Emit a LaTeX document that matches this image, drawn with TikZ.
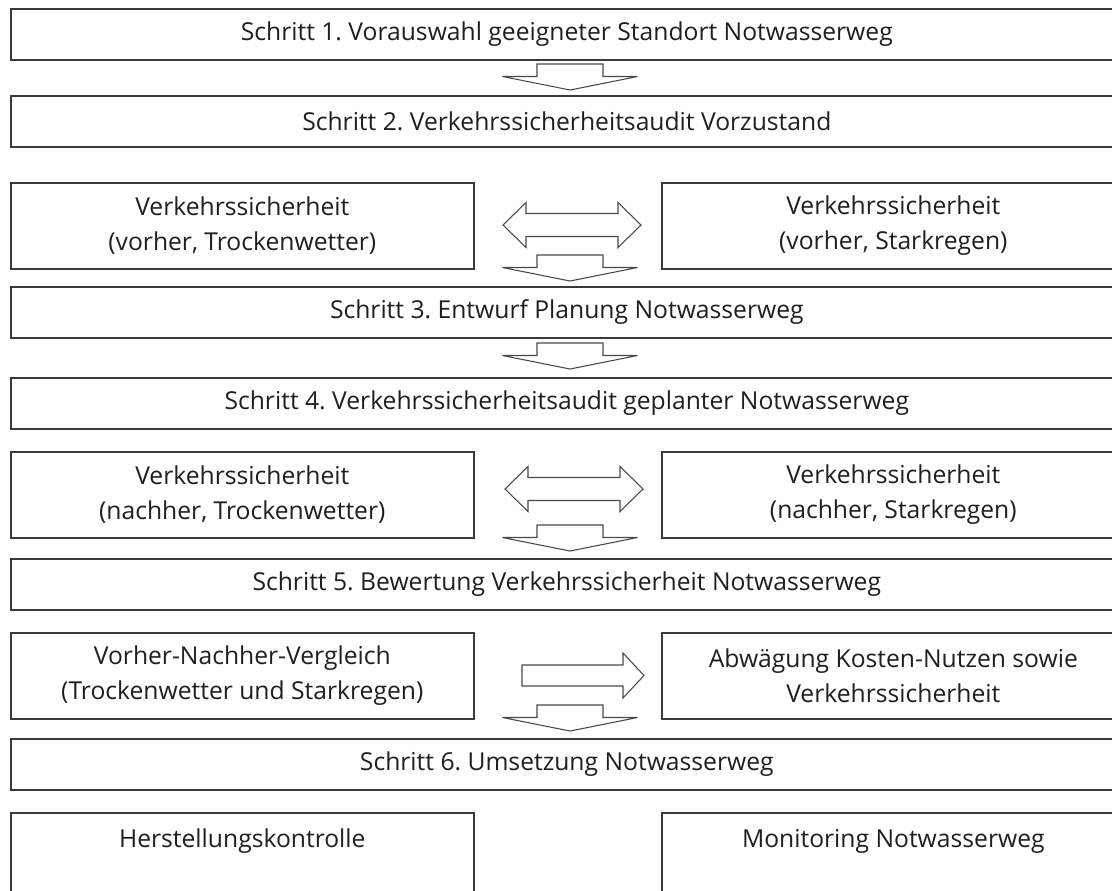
\documentclass[tikz,border=0pt]{standalone}
\usepackage{fontspec}
\setmainfont{Open Sans}
\frenchspacing
\definecolor{boxc}{HTML}{3A3A3A}
\definecolor{arrc}{HTML}{4A4A4A}
\begin{document}
\begin{tikzpicture}[x=0.75pt,y=-0.75pt,
  every node/.style={font=\fontsize{18.5}{26.25}\selectfont, text=black!88},
  wide/.style={draw=boxc, line width=1.2pt, anchor=north west, inner sep=0pt,
    minimum width=834pt, minimum height=38.25pt},
  half/.style={draw=boxc, line width=1.2pt, anchor=north west, inner sep=0pt,
    minimum width=347.25pt, minimum height=64.5pt, align=center},
  arr/.style={draw=arrc, line width=0.8pt, fill=white, line join=miter},
  downarr/.pic={\draw[arr] (-33,0) -- (33,0) -- (33,12.5) -- (67.5,12.5) -- (0,26)
      -- (-67.5,12.5) -- (-33,12.5) -- cycle;},
  dblarr/.pic={\draw[arr] (-69,0) -- (-46,-22.5) -- (-46,-11.5) -- (46,-11.5) -- (46,-22.5)
      -- (69,0) -- (46,22.5) -- (46,11.5) -- (-46,11.5) -- (-46,22.5) -- cycle;},
  rarr/.pic={\draw[arr] (0,-10.5) -- (101,-10.5) -- (101,-22.5) -- (122,0) -- (101,22.5)
      -- (101,10.5) -- (0,10.5) -- cycle;}
]
\path[use as bounding box, fill=white] (0,0) rectangle (1112,890);
\clip (0,0) rectangle (1112,890);

\node[wide] (s1) at (10,8) {Schritt 1. Vorauswahl geeigneter Standort Notwasserweg};
\node[wide] (s2) at (10,95) {Schritt 2. Verkehrssicherheitsaudit Vorzustand};
\node[half] (v1) at (10,182) {Verkehrssicherheit\\(vorher, Trockenwetter)};
\node[half] (v2) at (661,182) {Verkehrssicherheit\\(vorher, Starkregen)};
\node[wide] (s3) at (10,286) {Schritt 3. Entwurf Planung Notwasserweg};
\node[wide] (s4) at (10,377) {Schritt 4. Verkehrssicherheitsaudit geplanter Notwasserweg};
\node[half] (n1) at (10,451) {Verkehrssicherheit\\(nachher, Trockenwetter)};
\node[half] (n2) at (661,451) {Verkehrssicherheit\\(nachher, Starkregen)};
\node[wide] (s5) at (10,558) {Schritt 5. Bewertung Verkehrssicherheit Notwasserweg};
\node[half] (c1) at (10,632) {Vorher-Nachher-Vergleich\\(Trockenwetter und Starkregen)};
\node[half] (c2) at (661,632) {Abwägung Kosten-Nutzen sowie\\Verkehrssicherheit};
\node[wide] (s6) at (10,738) {Schritt 6. Umsetzung Notwasserweg};
\node[half] (h1) at (10,812) {Herstellungskontrolle\\\mbox{}};
\node[half] (h2) at (661,812) {Monitoring Notwasserweg\\\mbox{}};

\coordinate (a1) at (570,64);
\coordinate (a2) at (570,255);
\coordinate (a3) at (570,343);
\coordinate (a4) at (570,525);
\coordinate (a5) at (570,705);
\coordinate (b1) at (572,225);
\coordinate (b2) at (574,489);
\coordinate (r1) at (522,675.5);

\pic at (b1) {dblarr};
\pic at (b2) {dblarr};
\pic at (r1) {rarr};
\pic at (a1) {downarr};
\pic at (a2) {downarr};
\pic at (a3) {downarr};
\pic at (a4) {downarr};
\pic at (a5) {downarr};
\end{tikzpicture}
\end{document}
